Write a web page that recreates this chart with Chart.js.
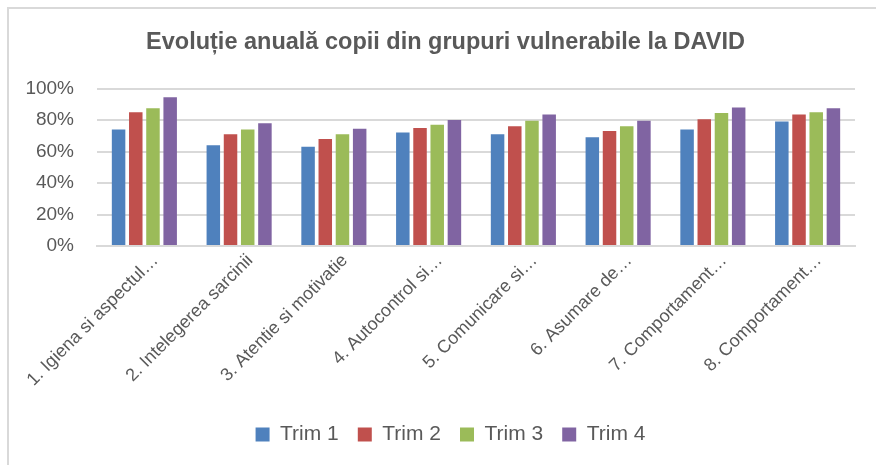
<!DOCTYPE html>
<html>
<head>
<meta charset="utf-8">
<title>Evoluție anuală copii din grupuri vulnerabile la DAVID</title>
<script src="https://cdn.jsdelivr.net/npm/chart.js@4.4.1/dist/chart.umd.min.js"></script>
<style>
    html, body { margin: 0; padding: 0; background: #fff; }
    #wrap { position: relative; width: 876px; height: 465px; overflow: hidden; }
    #frame {
        position: absolute; left: 7px; top: 7px; right: -10px; bottom: -10px;
        border-top: 2px solid #d9d9d9; border-left: 2px solid #d9d9d9;
    }
    #chart { position: absolute; left: 0; top: 0; }
</style>
</head>
<body>
<div id="wrap">
    <div id="frame"></div>
    <canvas id="chart" width="876" height="465"></canvas>
</div>
<script>
// date (procente)
const categorii = [
    '1. Igiena si aspectul…',
    '2. Intelegerea sarcinii',
    '3. Atentie si motivatie',
    '4. Autocontrol si…',
    '5. Comunicare si…',
    '6. Asumare de…',
    '7. Comportament…',
    '8. Comportament…'
];
const trim1 = [74, 64, 63, 72, 71, 69, 74, 79];
const trim2 = [85, 71, 68, 75, 76, 73, 80.5, 83.5];
const trim3 = [87.5, 74, 71, 77, 79.5, 76, 84.5, 85];
const trim4 = [94.5, 78, 74.5, 80, 83.5, 79.5, 88, 87.5];
const yTicks = [0, 20, 40, 60, 80, 100];

const culori = ['#4F81BD', '#C0504D', '#9BBB59', '#8064A2'];
const serii = [
    { label: 'Trim 1', data: trim1 },
    { label: 'Trim 2', data: trim2 },
    { label: 'Trim 3', data: trim3 },
    { label: 'Trim 4', data: trim4 }
];

const font = "'Liberation Sans', Arial, sans-serif";
const gri = '#595959';

// mic decalaj orizontal pentru titlu si legenda (ca in Excel)
const decalaj = {
    id: 'decalaj',
    afterLayout(chart) {
        if (chart.titleBlock) { chart.titleBlock.left += 7; chart.titleBlock.right += 7; }
        if (chart.legend) { chart.legend.left += 12; chart.legend.right += 12; }
    }
};

const ctx = document.getElementById('chart').getContext('2d');
new Chart(ctx, {
    type: 'bar',
    data: {
        labels: categorii,
        datasets: serii.map((s, i) => ({
            label: s.label,
            data: s.data,
            backgroundColor: culori[i],
            borderWidth: 0,
            categoryPercentage: 0.726,
            barPercentage: 0.785
        }))
    },
    plugins: [decalaj],
    options: {
        responsive: false,
        animation: false,
        layout: { padding: { left: 22, right: 21, top: 8, bottom: 10 } },
        plugins: {
            title: {
                display: true,
                text: 'Evoluție anuală copii din grupuri vulnerabile la DAVID',
                color: gri,
                font: { family: font, size: 23.5, weight: 'bold', lineHeight: 1.2 },
                padding: { top: 20.5, bottom: 31.8 }
            },
            legend: {
                position: 'bottom',
                labels: {
                    color: gri,
                    font: { family: font, size: 21 },
                    boxWidth: 14,
                    boxHeight: 14,
                    padding: 19
                }
            },
            tooltip: { enabled: false }
        },
        scales: {
            x: {
                grid: { display: false, drawTicks: false },
                border: { color: '#d9d9d9', width: 2 },
                ticks: {
                    color: gri,
                    font: { family: font, size: 18 },
                    autoSkip: false,
                    minRotation: 45,
                    maxRotation: 45,
                    padding: 4,
                    labelOffset: 11
                },
                afterFit: (scale) => { scale.height = 159; }
            },
            y: {
                min: 0,
                max: 100,
                afterBuildTicks: (scale) => { scale.ticks = yTicks.map(v => ({ value: v })); },
                grid: { color: '#d9d9d9', lineWidth: 2, drawTicks: false },
                border: { display: false },
                ticks: {
                    color: gri,
                    font: { family: font, size: 19 },
                    padding: 23,
                    callback: (v) => v + '%'
                },
                afterFit: (scale) => { scale.width = 75; }
            }
        }
    }
});
</script>
</body>
</html>
